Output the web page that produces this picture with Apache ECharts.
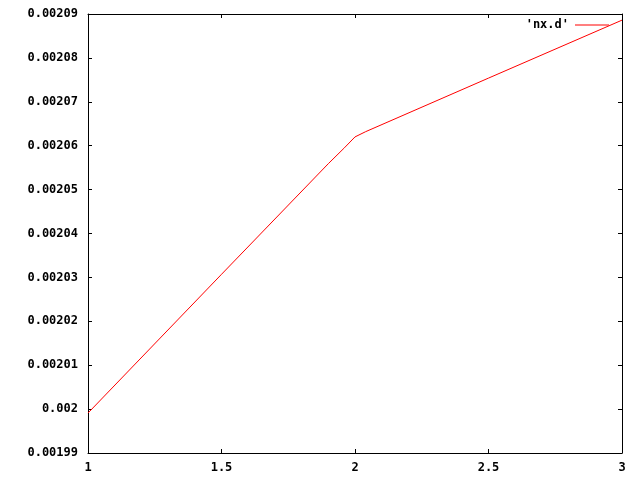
<!DOCTYPE html>
<html>
<head>
<meta charset="utf-8">
<script src="https://cdn.jsdelivr.net/npm/echarts@6/dist/echarts.min.js"></script>
<style>html,body{margin:0;padding:0;background:#fff}#c{width:640px;height:480px}</style>
</head>
<body>
<div id="c"></div>
<script>
var seriesName = "'nx.d'";
var xValues = [1, 1.5, 1.9, 1.96, 2.0, 2.04, 2.5, 3];
var yValues = [0.0019991, 0.0020307, 0.0020559, 0.0020595, 0.0020620, 0.0020632, 0.0020754, 0.0020886];
var xTicks = [1, 1.5, 2, 2.5, 3];
var yMin = 0.00199, yMax = 0.00209, yStep = 0.00001;

var font = {fontFamily: 'DejaVu Sans Mono', fontWeight: 'bold', fontSize: 12, color: '#000'};
var chart = echarts.init(document.getElementById('c'), null, {renderer: 'canvas'});
var data = xValues.map(function (x, i) { return [x, yValues[i]]; });
function fmtY(v) { return String(parseFloat(v.toFixed(5))); }
var lineStyle = {color: '#000', width: 1};
chart.setOption({
  animation: false,
  backgroundColor: '#fff',
  grid: {left: 88, right: 18, top: 14, bottom: 27, containLabel: false},
  legend: {
    show: true, orient: 'horizontal',
    left: 'auto', right: 31, top: 19, bottom: 'auto', align: 'right',
    padding: 0, itemWidth: 34, itemHeight: 1, itemGap: 0,
    icon: 'rect',
    textStyle: Object.assign({}, font, {padding: [0, 1, 0, 0]}),
    data: [{name: seriesName, itemStyle: {color: '#ff0000'}}]
  },
  xAxis: [
    {type: 'value', min: 1, max: 3, interval: 0.5, position: 'bottom',
     axisLine: {show: true, lineStyle: lineStyle},
     axisTick: {show: true, inside: true, length: 4, lineStyle: lineStyle},
     splitLine: {show: false},
     axisLabel: Object.assign({}, font, {margin: 9, formatter: function (v) { return String(v); }})},
    {type: 'value', min: 1, max: 3, interval: 0.5, position: 'top',
     axisLine: {show: true, lineStyle: lineStyle},
     axisTick: {show: true, inside: true, length: 4, lineStyle: lineStyle},
     splitLine: {show: false}, axisLabel: {show: false}}
  ],
  yAxis: [
    {type: 'value', min: yMin, max: yMax, interval: yStep, position: 'left',
     axisLine: {show: true, lineStyle: lineStyle},
     axisTick: {show: true, inside: true, length: 4, lineStyle: lineStyle},
     splitLine: {show: false},
     axisLabel: Object.assign({}, font, {margin: 10, formatter: fmtY})},
    {type: 'value', min: yMin, max: yMax, interval: yStep, position: 'right',
     axisLine: {show: true, lineStyle: lineStyle},
     axisTick: {show: true, inside: true, length: 4, lineStyle: lineStyle},
     splitLine: {show: false}, axisLabel: {show: false}}
  ],
  series: [{
    name: seriesName, type: 'line', data: data,
    xAxisIndex: 0, yAxisIndex: 0,
    showSymbol: false, symbol: 'none',
    lineStyle: {color: '#ff0000', width: 1},
    itemStyle: {color: '#ff0000'}
  }]
});
</script>
</body>
</html>
